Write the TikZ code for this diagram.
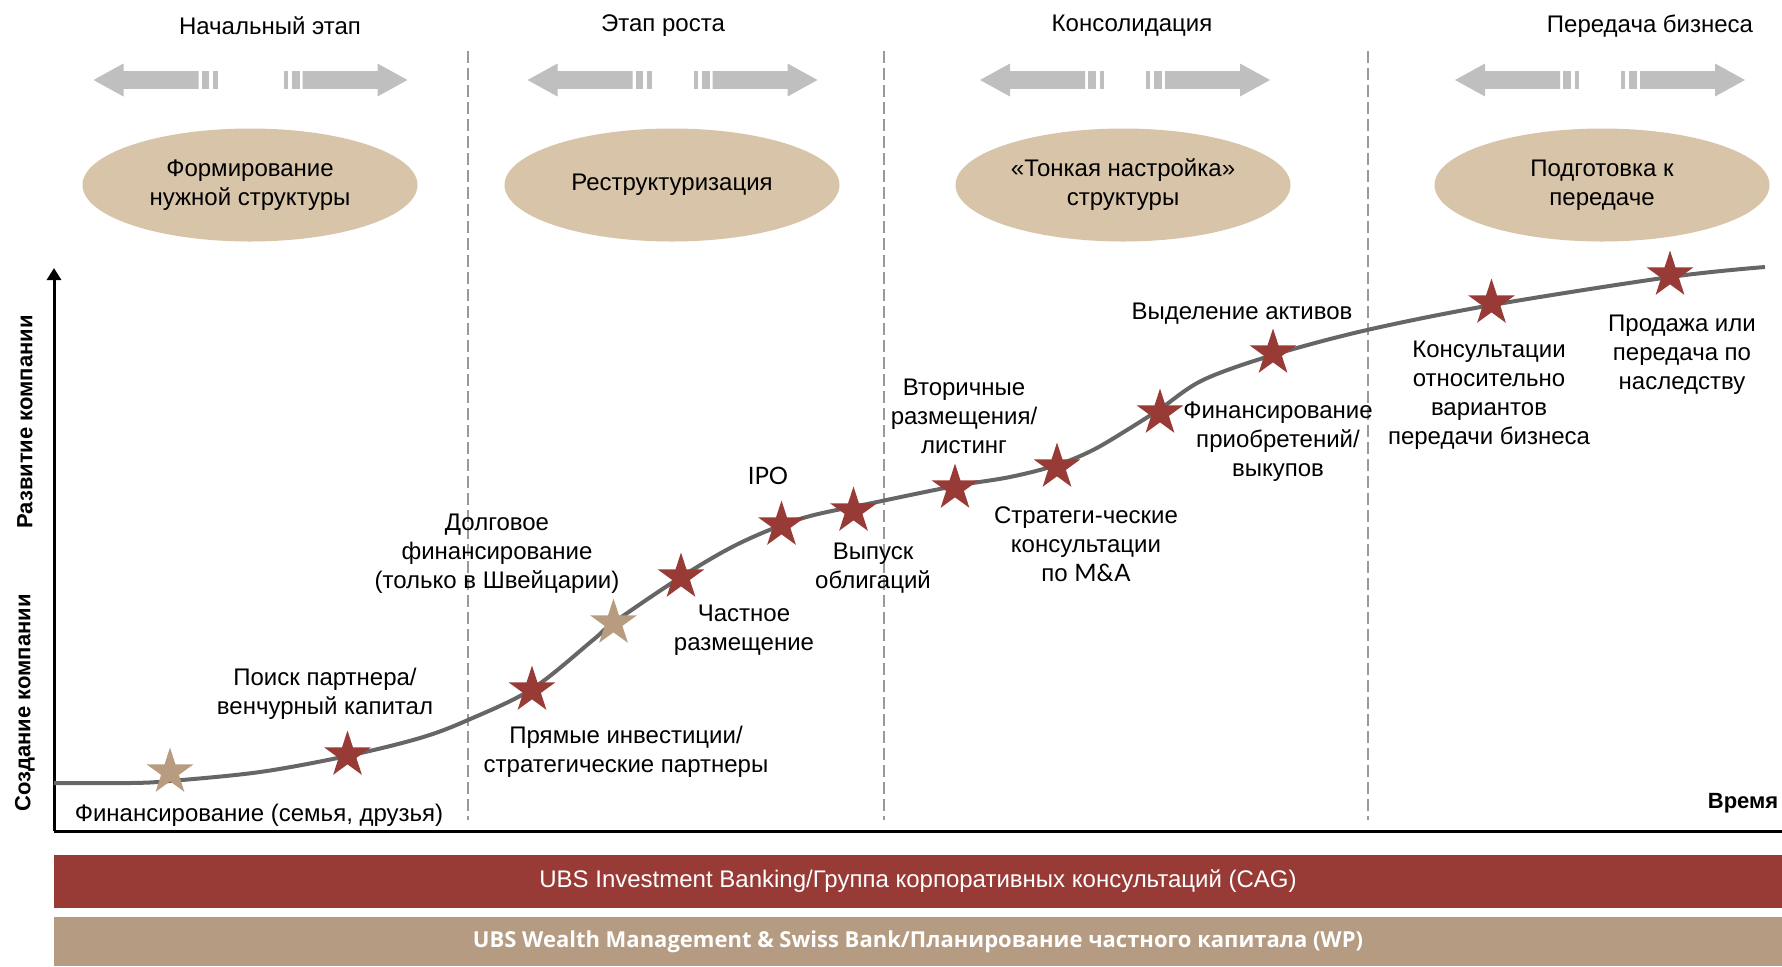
\documentclass[tikz,border=0pt]{standalone}
\usepackage{fontspec}
\setmainfont{Liberation Sans}
\newfontfamily\wpfont{Open Sans}
\newfontfamily\thinfont{Lato}
\usetikzlibrary{shapes.geometric,arrows.meta}

\definecolor{ubsred}{HTML}{983B36}
\definecolor{ubstan}{HTML}{B59B82}
\definecolor{startan}{HTML}{B89C7F}
\definecolor{ovaltan}{HTML}{D8C4A8}
\definecolor{arrowgray}{HTML}{BFBFBF}
\definecolor{dashgray}{HTML}{9A9A9A}
\definecolor{curvegray}{HTML}{666666}

\tikzset{every picture/.style={line width=0.75pt}}
\tikzset{
  lbl/.style={font=\fontsize{12}{14.5}\selectfont, align=center, inner sep=0pt, yshift=-1.5pt},
  oval/.style={ellipse, fill=ovaltan, minimum width=167.5pt, minimum height=56.5pt, inner sep=0pt, lbl},
  redstar/.style={star, star points=5, star point ratio=2.618, fill=ubsred, minimum size=24.5pt, inner sep=0pt},
  tanstar/.style={redstar, fill=startan},
  border/.style={dashgray, line width=1pt, dash pattern=on 6pt off 2.5pt},
  axis/.style={black, line width=1.5pt},
  axislbl/.style={font=\bfseries\fontsize{11}{13}\selectfont, inner sep=0pt},
  bar/.style={minimum width=864pt, inner sep=0pt, text=white}
}

% pair of grey arrows over a stage: #1 centre x, #2 half gap
\newcommand{\stagearrows}[2]{%
  \foreach \s in {1,-1}{
    \begin{scope}[shift={(#1,80)}, xscale=\s]
      \fill[arrowgray] (#2,-8.8) rectangle (#2+4.3,8.8);
      \fill[arrowgray] (#2+8.3,-8.8) rectangle (#2+16,8.8);
      \fill[arrowgray] (#2+19,-8.8) -- (#2+94,-8.8) -- (#2+94,-16.5) -- (#2+124,0)
        -- (#2+94,16.5) -- (#2+94,8.8) -- (#2+19,8.8) -- cycle;
    \end{scope}
  }%
}

\begin{document}
\begin{tikzpicture}[x=0.5pt,y=0.5pt,yscale=-1,xscale=1]
\useasboundingbox (0,0) rectangle (1782,966);

%Stage titles
\node[lbl] (st1) at (270,23) {Начальный этап};
\node[lbl] (st2) at (663,23) {Этап роста};
\node[lbl] (st3) at (1132,23) {Консолидация};
\node[lbl] (st4) at (1650,23) {Передача бизнеса};

%Grey arrows
\stagearrows{250.5}{33}
\stagearrows{672.5}{21}
\stagearrows{1125}{21}
\stagearrows{1600}{21}

%Ovals
\node[oval] (ov1) at (250,182) {Формирование\\нужной структуры};
\node[oval] (ov2) at (672,182) {Реструктуризация};
\node[oval] (ov3) at (1123,182) {«Тонкая настройка»\\структуры};
\node[oval] (ov4) at (1602,182) {Подготовка к\\передаче};

%Stage borders
\draw[border] (468,51) -- (468,820);
\draw[border] (884,51) -- (884,820);
\draw[border] (1368,51) -- (1368,820);

%Axes
\coordinate (origin) at (54,831);
\coordinate (ytop) at (54,268);
\coordinate (xend) at (1782,831);
\draw[axis, -{Triangle[length=6pt,width=7pt]}] (origin) -- (ytop);
\draw[axis] (origin) -- (xend);
\node[axislbl, rotate=90] (ydev) at (25,422) {Развитие компании};
\node[axislbl, rotate=90] (ycre) at (25,703) {Создание компании};
\node[axislbl, anchor=east] (xlbl) at (1779,803) {Время};

%Growth curve
\draw[curvegray, line width=2pt] plot[smooth, tension=0.55] coordinates {
  (54,783) (130,783) (170,781) (260,772) (347,756) (420,738) (468,720)
  (532,689) (593,640) (613,623) (681,577) (740,543) (803,518) (877,502)
  (955,486) (1010,477) (1057,465) (1093,450) (1127,430) (1160,409)
  (1203,380) (1273,355) (1367,330) (1492,305) (1670,277) (1765,267)};

%Stars
\node[tanstar] (s1) at (170,772) {};
\node[redstar] (s2) at (347.5,755) {};
\node[redstar] (s3) at (532,690) {};
\node[tanstar] (s4) at (613.5,623) {};
\node[redstar] (s5) at (681,577) {};
\node[redstar] (s6) at (781.5,525) {};
\node[redstar] (s7) at (853.5,511) {};
\node[redstar] (s8) at (955,488) {};
\node[redstar] (s9) at (1057,467) {};
\node[redstar] (s10) at (1160,413) {};
\node[redstar] (s11) at (1273,353) {};
\node[redstar] (s12) at (1491.5,303) {};
\node[redstar] (s13) at (1670,275) {};

%Milestone labels
\node[lbl] (l1) at (259,812) {Финансирование (семья, друзья)};
\node[lbl] (l2) at (325,691) {Поиск партнера/\\венчурный капитал};
\node[lbl] (l3) at (626,749) {Прямые инвестиции/\\стратегические партнеры};
\node[lbl] (l4) at (497,551) {Долговое\\финансирование\\(только в Швейцарии)};
\node[lbl] (l5) at (744,627) {Частное\\размещение};
\node[lbl] (l6) at (768,473) {\thinfont IPO};
\node[lbl] (l7) at (873,565) {Выпуск\\облигаций};
\node[lbl] (l8) at (964,413) {Вторичные\\размещения/\\листинг};
\node[lbl] (l9) at (1086,541) {Стратеги-ческие\\консультации\\по {\thinfont M\&A}};
\node[lbl] (l10) at (1278,439) {Финансирование\\приобретений/\\выкупов};
\node[lbl] (l11) at (1242,311) {Выделение активов};
\node[lbl] (l12) at (1489,392) {Консультации\\относительно\\вариантов\\передачи бизнеса};
\node[lbl] (l13) at (1682,352) {Продажа или\\передача по\\наследству};

%Service bars
\node[bar, fill=ubsred, minimum height=26.5pt, font=\fontsize{12}{14}\selectfont] (ibbar) at (918,881.5)
  {UBS Investment Banking/Группа корпоративных консультаций (CAG)};
\node[bar, fill=ubstan, minimum height=24.5pt, font=\wpfont\bfseries\fontsize{11}{14}\selectfont] (wpbar) at (918,941.5)
  {UBS Wealth Management \& Swiss Bank/Планирование частного капитала (WP)};

\end{tikzpicture}
\end{document}
